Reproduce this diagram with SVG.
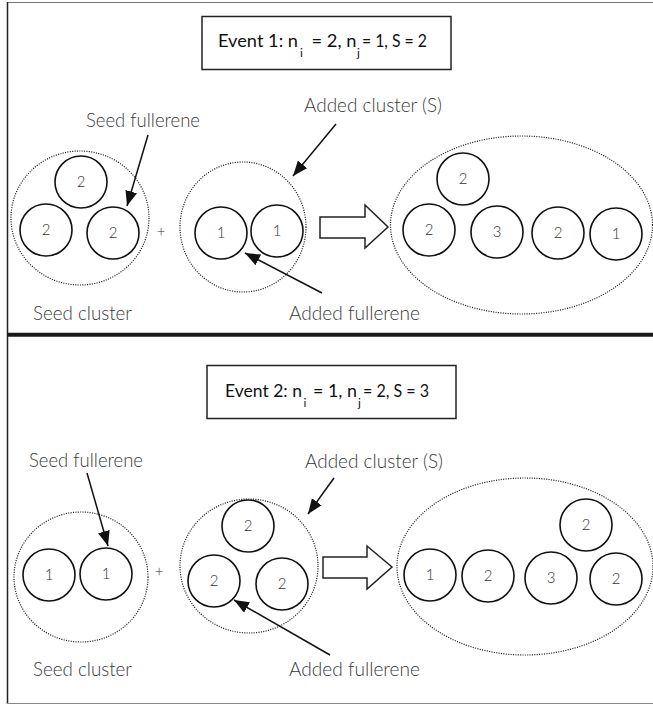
<svg xmlns="http://www.w3.org/2000/svg" width="653" height="705" viewBox="0 0 653 705">
  <style>
    .frame { stroke: #222; fill: none; }
    .box { fill: #fff; stroke: #222; stroke-width: 1.5; }
    .title { font-family: "Lato", "Liberation Sans", sans-serif; font-size: 18px; fill: #111; }
    .sub { font-family: "Lato", "Liberation Sans", sans-serif; font-size: 12px; fill: #111; }
    .label { font-family: "Lato", "Liberation Sans", sans-serif; font-weight: 300; font-size: 19px; fill: #3a3a3a; }
    .ball { fill: #fff; stroke: #111; stroke-width: 1.6; }
    .num { font-family: "Lato", "Liberation Sans", sans-serif; font-weight: 300; font-size: 15px; fill: #333; text-anchor: middle; }
    .cluster { fill: none; stroke: #222; stroke-width: 1.2; stroke-dasharray: 1.1 1.3; }
    .ptr { stroke: #111; stroke-width: 1.5; fill: none; marker-end: url(#head); }
    .block { fill: #fff; stroke: #222; stroke-width: 1.5; stroke-linejoin: miter; }
  </style>
  <defs>
    <marker id="head" markerUnits="userSpaceOnUse" markerWidth="16" markerHeight="14" refX="15" refY="6" orient="auto">
      <path d="M0,0 L15,6 L0,12 Z" fill="#111"/>
    </marker>
  </defs>

  <!-- panel frame -->
  <g id="frame">
    <line class="frame" x1="7" y1="2.5" x2="653" y2="2.5" style="stroke:#777" stroke-width="1"/>
    <line class="frame" x1="7.5" y1="2" x2="7.5" y2="704" stroke-width="1.5"/>
    <line class="frame" x1="7" y1="334.7" x2="653" y2="334.7" stroke-width="4" style="stroke:#1a1a1a"/>
    <line class="frame" x1="7" y1="703.5" x2="653" y2="703.5" stroke-width="1" style="stroke:#888"/>
  </g>

  <!-- ===== Event 1 ===== -->
  <g id="event1-title">
    <rect class="box" x="202" y="16.5" width="249" height="53"/>
    <text class="title" x="218" y="47" textLength="80" lengthAdjust="spacingAndGlyphs">Event 1: n</text>
    <text class="sub" x="300" y="57">i</text>
    <text class="title" x="311.5" y="47" textLength="45" lengthAdjust="spacingAndGlyphs">= 2, n</text>
    <text class="sub" x="357" y="57">j</text>
    <text class="title" x="362" y="47" textLength="65" lengthAdjust="spacingAndGlyphs">= 1, S = 2</text>
  </g>

  <g id="event1-seed-cluster">
    <ellipse class="cluster" cx="80" cy="218" rx="69" ry="67"/>
    <circle class="ball" cx="81" cy="182" r="26"/>
    <text class="num" x="81" y="187">2</text>
    <circle class="ball" cx="46" cy="230" r="26"/>
    <text class="num" x="46" y="235">2</text>
    <circle class="ball" cx="113" cy="233" r="26"/>
    <text class="num" x="113" y="238">2</text>
  </g>

  <g id="event1-plus">
    <text class="num" x="161" y="237">+</text>
  </g>

  <g id="event1-added-cluster">
    <ellipse class="cluster" cx="243" cy="227" rx="63" ry="65"/>
    <circle class="ball" cx="221" cy="233" r="26"/>
    <text class="num" x="221" y="238">1</text>
    <circle class="ball" cx="277" cy="231" r="26"/>
    <text class="num" x="277" y="236">1</text>
  </g>

  <g id="event1-block-arrow">
    <polygon class="block" points="320,217 365,217 365,205 388,227 365,248 365,238 320,238"/>
  </g>

  <g id="event1-result">
    <ellipse class="cluster" cx="521.5" cy="225" rx="131" ry="89"/>
    <circle class="ball" cx="463" cy="179" r="26"/>
    <text class="num" x="463" y="184">2</text>
    <circle class="ball" cx="429" cy="230" r="26"/>
    <text class="num" x="429" y="235">2</text>
    <circle class="ball" cx="497" cy="232" r="26"/>
    <text class="num" x="497" y="237">3</text>
    <circle class="ball" cx="558" cy="233" r="26"/>
    <text class="num" x="558" y="238">2</text>
    <circle class="ball" cx="616" cy="234" r="26"/>
    <text class="num" x="616" y="239">1</text>
  </g>

  <g id="event1-labels">
    <text class="label" x="86" y="127" textLength="114" lengthAdjust="spacingAndGlyphs">Seed fullerene</text>
    <text class="label" x="304" y="112" textLength="138" lengthAdjust="spacingAndGlyphs">Added cluster (S)</text>
    <text class="label" x="33" y="320" textLength="99" lengthAdjust="spacingAndGlyphs">Seed cluster</text>
    <text class="label" x="289" y="320" textLength="131" lengthAdjust="spacingAndGlyphs">Added fullerene</text>
  </g>

  <!-- ===== Event 2 ===== -->
  <g id="event2-title">
    <rect class="box" x="207" y="365.5" width="249" height="53"/>
    <text class="title" x="225" y="397" textLength="77" lengthAdjust="spacingAndGlyphs">Event 2: n</text>
    <text class="sub" x="303.5" y="407">i</text>
    <text class="title" x="313" y="397" textLength="44" lengthAdjust="spacingAndGlyphs">= 1, n</text>
    <text class="sub" x="358" y="407">j</text>
    <text class="title" x="363" y="397" textLength="66" lengthAdjust="spacingAndGlyphs">= 2, S = 3</text>
  </g>

  <g id="event2-seed-cluster">
    <ellipse class="cluster" cx="81" cy="577" rx="67" ry="65"/>
    <circle class="ball" cx="49" cy="575" r="26"/>
    <text class="num" x="49" y="580">1</text>
    <circle class="ball" cx="106" cy="574" r="26"/>
    <text class="num" x="106" y="579">1</text>
  </g>

  <g id="event2-plus">
    <text class="num" x="159" y="577">+</text>
  </g>

  <g id="event2-added-cluster">
    <ellipse class="cluster" cx="249" cy="566" rx="69" ry="67"/>
    <circle class="ball" cx="248" cy="526" r="26"/>
    <text class="num" x="248" y="531">2</text>
    <circle class="ball" cx="214" cy="581" r="26"/>
    <text class="num" x="214" y="586">2</text>
    <circle class="ball" cx="282" cy="584" r="26"/>
    <text class="num" x="282" y="589">2</text>
  </g>

  <g id="event2-block-arrow">
    <polygon class="block" points="323,557 367,557 367,546 392,567 367,589 367,578 323,578"/>
  </g>

  <g id="event2-result">
    <ellipse class="cluster" cx="525" cy="566.5" rx="128" ry="88.5"/>
    <circle class="ball" cx="430" cy="575" r="26"/>
    <text class="num" x="430" y="580">1</text>
    <circle class="ball" cx="488" cy="576" r="26"/>
    <text class="num" x="488" y="581">2</text>
    <circle class="ball" cx="551" cy="578" r="26"/>
    <text class="num" x="551" y="583">3</text>
    <circle class="ball" cx="586" cy="525" r="26"/>
    <text class="num" x="586" y="530">2</text>
    <circle class="ball" cx="616" cy="579" r="26"/>
    <text class="num" x="616" y="584">2</text>
  </g>

  <g id="event2-labels">
    <text class="label" x="29" y="467" textLength="114" lengthAdjust="spacingAndGlyphs">Seed fullerene</text>
    <text class="label" x="305" y="468" textLength="138" lengthAdjust="spacingAndGlyphs">Added cluster (S)</text>
    <text class="label" x="33" y="676" textLength="99" lengthAdjust="spacingAndGlyphs">Seed cluster</text>
    <text class="label" x="289" y="676" textLength="131" lengthAdjust="spacingAndGlyphs">Added fullerene</text>
  </g>

  <!-- pointer arrows from labels to clusters / fullerenes -->
  <g id="connectors">
    <line class="ptr" x1="148" y1="135" x2="127" y2="206"/>
    <line class="ptr" x1="336" y1="124" x2="293" y2="176"/>
    <line class="ptr" x1="322" y1="293" x2="245" y2="253"/>
    <line class="ptr" x1="87" y1="473" x2="108" y2="546"/>
    <line class="ptr" x1="334" y1="478" x2="308" y2="514"/>
    <line class="ptr" x1="330" y1="655" x2="234" y2="600"/>
  </g>
</svg>
